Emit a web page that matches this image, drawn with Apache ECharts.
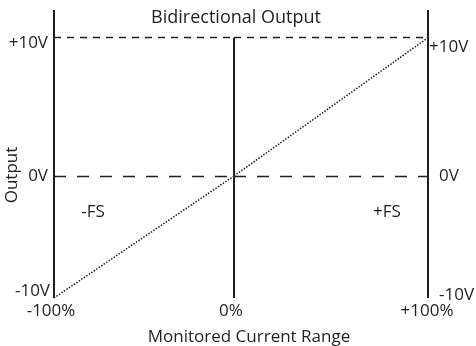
<!DOCTYPE html>
<html>
<head>
<meta charset="utf-8">
<script src="https://cdn.jsdelivr.net/npm/echarts@6/dist/echarts.min.js"></script>
<style>
  html, body { margin: 0; padding: 0; background: #fff; }
  #chart { width: 476px; height: 346px; }
</style>
</head>
<body>
<div id="chart"></div>
<script>
// Current range (percent of full scale) and the output voltage it maps to
const currentRange = [-100, 0, 100];
const outputVolts = [-10, 0, 10];
const xTickLabels = ['-100%', '0%', '+100%'];
const title = 'Bidirectional Output';
const xName = 'Monitored Current Range';
const yName = 'Output';
const sideLabels = ['-FS', '+FS'];

const INK = '#231f20';
const FONT = '"Open Sans", "Noto Sans", sans-serif';
const FS = 17;

// Each quadrant (negative/positive current x negative/positive output) has its own grid
const upperData = [[currentRange[1], outputVolts[1]], [currentRange[2], outputVolts[2]]];
const lowerData = [[currentRange[0], outputVolts[0]], [currentRange[1], outputVolts[1]]];

const solid = { color: INK, width: 2, type: 'solid' };
const fullDash = { color: INK, width: 1.4, type: [7, 6] };
const zeroDash = { color: INK, width: 1.4, type: [12, 11] };

const hiddenAxis = {
  axisLine: { show: false }, axisTick: { show: false }, splitLine: { show: false }
};
const labelBase = { fontSize: FS, color: INK, fontFamily: FONT };

function xTick(v) {
  return xTickLabels[currentRange.indexOf(v)];
}

const gridBase = { outerBoundsMode: 'none', containLabel: false };

const chart = echarts.init(document.getElementById('chart'));
chart.setOption({
  animation: false,
  backgroundColor: '#fff',
  textStyle: { fontFamily: FONT, color: INK },
  title: {
    text: title, left: 236, textAlign: 'center', top: 9, padding: 0,
    textStyle: { fontFamily: FONT, fontSize: 18, fontWeight: 'normal', color: INK }
  },
  grid: [
    { ...gridBase, left: 54, width: 180, top: 10, height: 166 },   // upper left
    { ...gridBase, left: 234, width: 194, top: 10, height: 166 },  // upper right
    { ...gridBase, left: 54, width: 180, top: 176, height: 122 },  // lower left
    { ...gridBase, left: 234, width: 194, top: 176, height: 122 }  // lower right
  ],
  xAxis: [
    { gridIndex: 0, type: 'value', min: currentRange[0], max: currentRange[1], show: false },
    { gridIndex: 1, type: 'value', min: currentRange[1], max: currentRange[2], show: false },
    {
      gridIndex: 2, type: 'value', min: currentRange[0], max: currentRange[1], ...hiddenAxis,
      axisLabel: {
        ...labelBase, customValues: [currentRange[0], currentRange[1]], margin: 5,
        formatter: v => '{a|' + xTick(v) + '}',
        rich: { a: { ...labelBase, padding: [0, 6, 0, 0] } }
      }
    },
    {
      gridIndex: 3, type: 'value', min: currentRange[1], max: currentRange[2], ...hiddenAxis,
      axisLabel: {
        ...labelBase, customValues: [currentRange[2]], margin: 5,
        formatter: v => '{a|' + xTick(v) + '}',
        rich: { a: { ...labelBase, padding: [0, 2, 0, 0] } }
      }
    }
  ],
  yAxis: [
    { // upper left
      gridIndex: 0, type: 'value', min: 0, max: 12, position: 'left', ...hiddenAxis,
      axisLabel: {
        ...labelBase, customValues: [outputVolts[2], outputVolts[1]], margin: 6,
        formatter: v => v > 0 ? '{t|+' + v + 'V}' : '{m|' + v + 'V}',
        rich: { t: { ...labelBase, padding: [10, 0, 0, 0] }, m: { ...labelBase } }
      }
    },
    { // upper right
      gridIndex: 1, type: 'value', min: 0, max: 12, position: 'right', ...hiddenAxis,
      axisLabel: {
        ...labelBase, customValues: [outputVolts[2], outputVolts[1]], margin: 1,
        formatter: v => v > 0 ? '{t|+' + v + 'V}' : '{m|' + v + 'V}',
        rich: { t: { ...labelBase, padding: [18, 0, 0, 0] }, m: { ...labelBase, padding: [0, 0, 0, 10] } }
      }
    },
    { // lower left
      gridIndex: 2, type: 'value', min: -10, max: 0, position: 'left', ...hiddenAxis,
      axisLabel: {
        ...labelBase, customValues: [outputVolts[0]], margin: 4,
        formatter: v => '{b|' + v + 'V}',
        rich: { b: { ...labelBase, padding: [0, 0, 14, 0] } }
      }
    },
    { // lower right
      gridIndex: 3, type: 'value', min: -10, max: 0, position: 'right', ...hiddenAxis,
      axisLabel: {
        ...labelBase, customValues: [outputVolts[0]], margin: 1,
        formatter: v => '{b|' + v + 'V}',
        rich: { b: { ...labelBase, padding: [0, 0, 6, 10] } }
      }
    }
  ],
  series: [
    { // upper left: frame and reference lines only
      type: 'line', xAxisIndex: 0, yAxisIndex: 0, data: [], silent: true,
      markLine: {
        silent: true, symbol: 'none', label: { show: false },
        data: [
          { xAxis: currentRange[0], lineStyle: solid },
          { yAxis: outputVolts[2], lineStyle: fullDash },
          { yAxis: outputVolts[1], lineStyle: zeroDash }
        ]
      }
    },
    { // upper right: positive half of the transfer line
      type: 'line', xAxisIndex: 1, yAxisIndex: 1, data: upperData,
      symbol: 'none', silent: true,
      lineStyle: { color: INK, width: 1.5, type: [1.5, 1.5] },
      markLine: {
        silent: true, symbol: 'none', label: { show: false },
        data: [
          { xAxis: currentRange[2], lineStyle: solid },
          [{ coord: [currentRange[1], outputVolts[1]], lineStyle: solid }, { coord: [currentRange[1], outputVolts[2]] }],
          { yAxis: outputVolts[2], lineStyle: fullDash },
          { yAxis: outputVolts[1], lineStyle: zeroDash }
        ]
      }
    },
    { // lower left: negative half of the transfer line
      type: 'line', xAxisIndex: 2, yAxisIndex: 2, data: lowerData,
      symbol: 'none', silent: true,
      lineStyle: { color: INK, width: 1.5, type: [1.5, 1.5] },
      markLine: {
        silent: true, symbol: 'none', label: { show: false },
        data: [
          { xAxis: currentRange[0], lineStyle: solid }
        ]
      }
    },
    { // lower right: frame only
      type: 'line', xAxisIndex: 3, yAxisIndex: 3, data: [], silent: true,
      markLine: {
        silent: true, symbol: 'none', label: { show: false },
        data: [
          { xAxis: currentRange[1], lineStyle: solid },
          { xAxis: currentRange[2], lineStyle: solid }
        ]
      }
    }
  ],
  graphic: [
    {
      type: 'text', x: 12, y: 175, rotation: Math.PI / 2,
      style: { text: yName, font: FS + 'px ' + FONT, fill: INK, align: 'center', verticalAlign: 'middle' }
    },
    {
      type: 'text', x: 249, y: 337,
      style: { text: xName, font: FS + 'px ' + FONT, fill: INK, align: 'center', verticalAlign: 'middle' }
    },
    {
      type: 'text', x: 93, y: 212,
      style: { text: sideLabels[0], font: FS + 'px ' + FONT, fill: INK, align: 'center', verticalAlign: 'middle' }
    },
    {
      type: 'text', x: 387, y: 212,
      style: { text: sideLabels[1], font: FS + 'px ' + FONT, fill: INK, align: 'center', verticalAlign: 'middle' }
    }
  ]
});
</script>
</body>
</html>
